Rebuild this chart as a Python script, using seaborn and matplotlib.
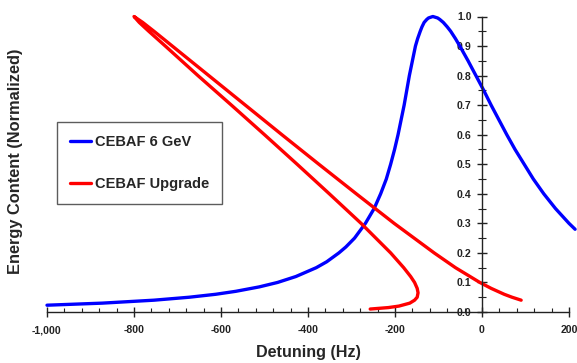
import matplotlib
matplotlib.use("Agg")
import matplotlib.pyplot as plt
import matplotlib.ticker as mticker
import pandas as pd
import seaborn as sns

# values
blue_label = "CEBAF 6 GeV"
blue_detuning = [-1000, -873, -754, -673, -612, -566, -512, -470, -428, -381, -357,
                 -329, -313, -293, -268, -248, -233, -220, -210, -201, -193, -186,
                 -179, -173, -167, -160, -153, -148, -142, -138, -133, -127, -123,
                 -113, -102, -97, -89, -80, -72, -61, -51, -32, -14, 4, 21, 39, 57,
                 76, 97, 118, 142, 169, 200, 214]
blue_energy = [0.023, 0.03, 0.04, 0.05, 0.06, 0.07, 0.085, 0.10, 0.12, 0.15, 0.17,
               0.20, 0.22, 0.25, 0.30, 0.35, 0.40, 0.45, 0.50, 0.55, 0.60, 0.65,
               0.70, 0.75, 0.80, 0.85, 0.90, 0.925, 0.95, 0.965, 0.98, 0.99, 0.995,
               1.00, 0.995, 0.99, 0.98, 0.965, 0.95, 0.925, 0.90, 0.85, 0.80, 0.75,
               0.70, 0.65, 0.60, 0.55, 0.50, 0.45, 0.40, 0.35, 0.30, 0.28]

red_label = "CEBAF Upgrade"
red_detuning = [-257, -215, -191, -166, -155, -149, -147, -149, -155, -164, -180,
                -210, -278, -351, -425, -500, -576, -653, -728, -766, -788, -800,
                -780, -754, -712, -628, -544, -460, -375, -289, -202, -110, -61,
                -5, 21, 51, 69, 90]
red_energy = [0.01, 0.015, 0.02, 0.03, 0.04, 0.05, 0.065, 0.08, 0.10, 0.12, 0.15,
              0.20, 0.30, 0.40, 0.50, 0.60, 0.70, 0.80, 0.90, 0.95, 0.98, 1.00,
              0.98, 0.95, 0.90, 0.80, 0.70, 0.60, 0.50, 0.40, 0.30, 0.20, 0.15,
              0.10, 0.08, 0.06, 0.05, 0.04]

df = pd.concat([
    pd.DataFrame({"detuning": blue_detuning, "energy": blue_energy, "series": blue_label}),
    pd.DataFrame({"detuning": red_detuning, "energy": red_energy, "series": red_label}),
], ignore_index=True)

sns.set_style("white")
plt.rcParams["font.family"] = ["Liberation Sans", "DejaVu Sans"]
plt.rcParams["font.weight"] = "bold"

fig = plt.figure(figsize=(5.77, 3.63), dpi=100)
ax = fig.add_axes([47 / 577, 1 - 312 / 363, 522 / 577, 295.5 / 363])

sns.lineplot(data=df, x="detuning", y="energy", hue="series", sort=False,
             estimator=None, palette={blue_label: "#0000ff", red_label: "#ff0000"},
             linewidth=2.4, ax=ax, legend=False)
for line, lab in zip(ax.get_lines(), [blue_label, red_label]):
    line.set_solid_capstyle("round")
    line.set_solid_joinstyle("round")
    line.set_label(lab)
    line.set_clip_on(False)

ax.set_xlim(-1000, 200)
ax.set_ylim(0, 1.0)

ax.spines["top"].set_visible(False)
ax.spines["right"].set_visible(False)
ax.spines["left"].set_position(("data", 0))
for s in ("left", "bottom"):
    ax.spines[s].set_color("#222222")
    ax.spines[s].set_linewidth(1.0)

ax.xaxis.set_major_locator(mticker.MultipleLocator(200))
ax.xaxis.set_minor_locator(mticker.MultipleLocator(40))
ax.xaxis.set_major_formatter(mticker.FuncFormatter(lambda v, p: f"{int(v):,}"))
ax.yaxis.set_major_locator(mticker.MultipleLocator(0.1))
ax.yaxis.set_minor_locator(mticker.MultipleLocator(0.05))
ax.yaxis.set_major_formatter(mticker.FormatStrFormatter("%.1f"))
ax.tick_params(which="both", bottom=True, left=True, color="#222222")
ax.tick_params(which="major", direction="inout", length=7, width=1.0,
               labelsize=7.6, labelcolor="#222222")
ax.tick_params(axis="x", which="minor", direction="in", length=3, width=0.8)
ax.tick_params(axis="y", which="minor", direction="inout", length=6, width=0.8)
ax.tick_params(axis="x", which="major", pad=6)
ax.tick_params(axis="y", which="major", pad=4)
for t in ax.get_xticklabels() + ax.get_yticklabels():
    t.set_fontweight("bold")

ax.set_xlabel("Detuning (Hz)", fontsize=11.6, fontweight="bold", labelpad=7)
ax.set_ylabel("Energy Content (Normalized)", fontsize=11.8, fontweight="bold")
ax.yaxis.set_label_coords(-0.046, 0.509)

leg = ax.legend(loc="upper left", bbox_to_anchor=(57 / 577, 1 - 122 / 363),
                bbox_transform=fig.transFigure, borderaxespad=0, fancybox=False,
                frameon=True, edgecolor="#333333",
                prop={"weight": "bold", "size": 10.5}, labelspacing=1.9,
                handlelength=1.45, handletextpad=0.25, borderpad=0.9)
leg.get_frame().set_linewidth(1.0)

fig.savefig("out.png", dpi=100)
